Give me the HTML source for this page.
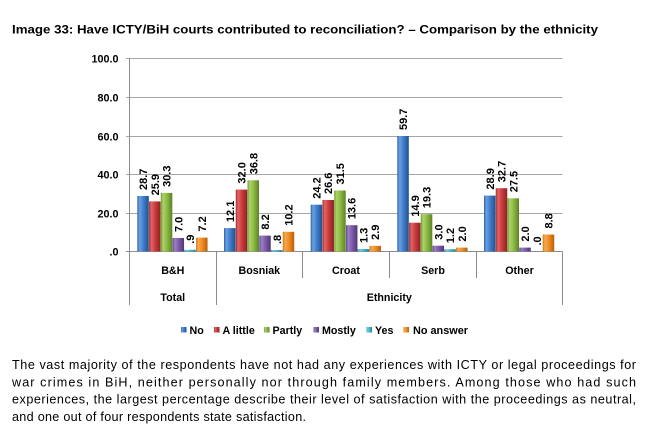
<!DOCTYPE html>
<html><head><meta charset="utf-8">
<style>
html,body{margin:0;padding:0;background:#fff;}
body{width:655px;height:434px;overflow:hidden;}
svg{display:block;}
text{font-family:"Liberation Sans",Arial,sans-serif;}
</style></head>
<body>
<svg width="655" height="434" viewBox="0 0 655 434" xmlns="http://www.w3.org/2000/svg">
<defs>
<linearGradient id="gB" x1="0" x2="1" y1="0" y2="0"><stop offset="0" stop-color="#2d62a6"/><stop offset="0.2" stop-color="#6aa0e0"/><stop offset="0.55" stop-color="#3d7cc9"/><stop offset="1" stop-color="#22508c"/></linearGradient>
<linearGradient id="gR" x1="0" x2="1" y1="0" y2="0"><stop offset="0" stop-color="#a82c2f"/><stop offset="0.2" stop-color="#e06466"/><stop offset="0.55" stop-color="#c93a3c"/><stop offset="1" stop-color="#8c2124"/></linearGradient>
<linearGradient id="gG" x1="0" x2="1" y1="0" y2="0"><stop offset="0" stop-color="#6f9a30"/><stop offset="0.2" stop-color="#acd36a"/><stop offset="0.55" stop-color="#8bb943"/><stop offset="1" stop-color="#5c8226"/></linearGradient>
<linearGradient id="gP" x1="0" x2="1" y1="0" y2="0"><stop offset="0" stop-color="#614690"/><stop offset="0.2" stop-color="#9c7fc4"/><stop offset="0.55" stop-color="#7b59a8"/><stop offset="1" stop-color="#503875"/></linearGradient>
<linearGradient id="gC" x1="0" x2="1" y1="0" y2="0"><stop offset="0" stop-color="#3097b0"/><stop offset="0.2" stop-color="#78d0e2"/><stop offset="0.55" stop-color="#40b4cf"/><stop offset="1" stop-color="#2a8299"/></linearGradient>
<linearGradient id="gO" x1="0" x2="1" y1="0" y2="0"><stop offset="0" stop-color="#d07414"/><stop offset="0.2" stop-color="#f7aa55"/><stop offset="0.55" stop-color="#f28a1d"/><stop offset="1" stop-color="#b5600f"/></linearGradient>
</defs>

<!-- Title -->
<text x="12" y="33.3" font-size="12.3" font-weight="bold" fill="#000" textLength="586" lengthAdjust="spacingAndGlyphs">Image 33: Have ICTY/BiH courts contributed to reconciliation? – Comparison by the ethnicity</text>

<!-- Gridlines -->
<g stroke="#a6a6a6" stroke-width="1">
<line x1="126" y1="58.5" x2="562.5" y2="58.5"/>
<line x1="126" y1="97.5" x2="562.5" y2="97.5"/>
<line x1="126" y1="136.5" x2="562.5" y2="136.5"/>
<line x1="126" y1="174.5" x2="562.5" y2="174.5"/>
<line x1="126" y1="213.5" x2="562.5" y2="213.5"/>
</g>
<!-- axes -->
<g stroke="#8c8c8c" stroke-width="1">
<line x1="129.5" y1="58" x2="129.5" y2="252"/>
<line x1="126" y1="251.5" x2="562.5" y2="251.5"/>
<line x1="129.5" y1="251.5" x2="129.5" y2="305"/>
<line x1="216.5" y1="251.5" x2="216.5" y2="305"/>
<line x1="302.5" y1="251.5" x2="302.5" y2="278"/>
<line x1="389.5" y1="251.5" x2="389.5" y2="278"/>
<line x1="476.5" y1="251.5" x2="476.5" y2="278"/>
<line x1="562.5" y1="251.5" x2="562.5" y2="305"/>
</g>

<!-- Y labels -->
<g font-size="10.8" font-weight="bold" fill="#000" text-anchor="end">
<text x="118.5" y="62.3">100.0</text>
<text x="118.5" y="101.3">80.0</text>
<text x="118.5" y="140.3">60.0</text>
<text x="118.5" y="178.3">40.0</text>
<text x="118.5" y="217.3">20.0</text>
<text x="118.5" y="255.3">.0</text>
</g>

<!-- Bars -->
<g>
<!-- B&H -->
<rect x="137.3" y="196.0" width="11.5" height="55.5" fill="url(#gB)"/>
<rect x="149.05" y="201.4" width="11.5" height="50.1" fill="url(#gR)"/>
<rect x="160.8" y="192.9" width="11.5" height="58.6" fill="url(#gG)"/>
<rect x="172.55" y="238.0" width="11.5" height="13.5" fill="url(#gP)"/>
<rect x="184.3" y="249.8" width="11.5" height="1.7" fill="url(#gC)"/>
<rect x="196.05" y="237.6" width="11.5" height="13.9" fill="url(#gO)"/>
<!-- Bosniak -->
<rect x="224" y="228.1" width="11.5" height="23.4" fill="url(#gB)"/>
<rect x="235.75" y="189.6" width="11.5" height="61.9" fill="url(#gR)"/>
<rect x="247.5" y="180.3" width="11.5" height="71.2" fill="url(#gG)"/>
<rect x="259.25" y="235.6" width="11.5" height="15.9" fill="url(#gP)"/>
<rect x="271" y="250.0" width="11.5" height="1.5" fill="url(#gC)"/>
<rect x="282.75" y="231.8" width="11.5" height="19.7" fill="url(#gO)"/>
<!-- Croat -->
<rect x="310.7" y="204.7" width="11.5" height="46.8" fill="url(#gB)"/>
<rect x="322.45" y="200.0" width="11.5" height="51.5" fill="url(#gR)"/>
<rect x="334.2" y="190.5" width="11.5" height="61.0" fill="url(#gG)"/>
<rect x="345.95" y="225.2" width="11.5" height="26.3" fill="url(#gP)"/>
<rect x="357.7" y="249.0" width="11.5" height="2.5" fill="url(#gC)"/>
<rect x="369.45" y="245.9" width="11.5" height="5.6" fill="url(#gO)"/>
<!-- Serb -->
<rect x="397.3" y="136.0" width="11.5" height="115.5" fill="url(#gB)"/>
<rect x="409.05" y="222.7" width="11.5" height="28.8" fill="url(#gR)"/>
<rect x="420.8" y="214.2" width="11.5" height="37.3" fill="url(#gG)"/>
<rect x="432.55" y="245.7" width="11.5" height="5.8" fill="url(#gP)"/>
<rect x="444.3" y="249.2" width="11.5" height="2.3" fill="url(#gC)"/>
<rect x="456.05" y="247.6" width="11.5" height="3.9" fill="url(#gO)"/>
<!-- Other -->
<rect x="484" y="195.6" width="11.5" height="55.9" fill="url(#gB)"/>
<rect x="495.75" y="188.2" width="11.5" height="63.3" fill="url(#gR)"/>
<rect x="507.5" y="198.3" width="11.5" height="53.2" fill="url(#gG)"/>
<rect x="519.25" y="247.6" width="11.5" height="3.9" fill="url(#gP)"/>
<rect x="542.75" y="234.5" width="11.5" height="17.0" fill="url(#gO)"/>
</g>

<!-- Value labels (rotated) -->
<g font-size="11" font-weight="bold" fill="#000">
<text transform="translate(147.1,190) rotate(-90)">28.7</text>
<text transform="translate(158.8,195.4) rotate(-90)">25.9</text>
<text transform="translate(170.6,186.9) rotate(-90)">30.3</text>
<text transform="translate(182.3,232) rotate(-90)">7.0</text>
<text transform="translate(194.1,243.8) rotate(-90)">.9</text>
<text transform="translate(205.8,231.6) rotate(-90)">7.2</text>

<text transform="translate(233.8,222.1) rotate(-90)">12.1</text>
<text transform="translate(245.5,183.6) rotate(-90)">32.0</text>
<text transform="translate(257.3,174.3) rotate(-90)">36.8</text>
<text transform="translate(269,229.6) rotate(-90)">8.2</text>
<text transform="translate(280.8,244) rotate(-90)">.8</text>
<text transform="translate(292.5,225.8) rotate(-90)">10.2</text>

<text transform="translate(320.5,198.7) rotate(-90)">24.2</text>
<text transform="translate(332.2,194) rotate(-90)">26.6</text>
<text transform="translate(344,184.5) rotate(-90)">31.5</text>
<text transform="translate(355.7,219.2) rotate(-90)">13.6</text>
<text transform="translate(367.5,243) rotate(-90)">1.3</text>
<text transform="translate(379.2,239.9) rotate(-90)">2.9</text>

<text transform="translate(407.1,130) rotate(-90)">59.7</text>
<text transform="translate(418.8,216.7) rotate(-90)">14.9</text>
<text transform="translate(430.6,208.2) rotate(-90)">19.3</text>
<text transform="translate(442.3,239.7) rotate(-90)">3.0</text>
<text transform="translate(454.1,243.2) rotate(-90)">1.2</text>
<text transform="translate(465.8,241.6) rotate(-90)">2.0</text>

<text transform="translate(493.8,189.6) rotate(-90)">28.9</text>
<text transform="translate(505.5,182.2) rotate(-90)">32.7</text>
<text transform="translate(517.3,192.3) rotate(-90)">27.5</text>
<text transform="translate(529,241.6) rotate(-90)">2.0</text>
<text transform="translate(540.8,245.5) rotate(-90)">.0</text>
<text transform="translate(552.5,228.5) rotate(-90)">8.8</text>
</g>

<!-- Category labels -->
<g font-size="10.7" font-weight="bold" fill="#000" text-anchor="middle">
<text x="172.8" y="274">B&amp;H</text>
<text x="259.3" y="274">Bosniak</text>
<text x="346" y="274">Croat</text>
<text x="433" y="274">Serb</text>
<text x="519.5" y="274">Other</text>
<text x="172.8" y="301">Total</text>
<text x="389.3" y="301">Ethnicity</text>
</g>

<!-- Legend -->
<g font-size="10.7" font-weight="bold" fill="#000">
<rect x="181" y="327" width="5.5" height="5.5" fill="url(#gB)"/>
<text x="189.5" y="333.8">No</text>
<rect x="214" y="327" width="5.5" height="5.5" fill="url(#gR)"/>
<text x="222.5" y="333.8">A little</text>
<rect x="264" y="327" width="5.5" height="5.5" fill="url(#gG)"/>
<text x="272.5" y="333.8">Partly</text>
<rect x="313.5" y="327" width="5.5" height="5.5" fill="url(#gP)"/>
<text x="322" y="333.8">Mostly</text>
<rect x="366.5" y="327" width="5.5" height="5.5" fill="url(#gC)"/>
<text x="375" y="333.8">Yes</text>
<rect x="403.5" y="327" width="5.5" height="5.5" fill="url(#gO)"/>
<text x="413" y="333.8" textLength="55" lengthAdjust="spacingAndGlyphs">No answer</text>
</g>

<!-- Paragraph -->
<g font-size="12.6" fill="#000">
<text x="12" y="369" textLength="624" lengthAdjust="spacing">The vast majority of the respondents have not had any experiences with ICTY or legal proceedings for</text>
<text x="12" y="386.5" textLength="624" lengthAdjust="spacing">war crimes in BiH, neither personally nor through family members. Among those who had such</text>
<text x="12" y="403.7" textLength="624" lengthAdjust="spacing">experiences, the largest percentage describe their level of satisfaction with the proceedings as neutral,</text>
<text x="12" y="421" textLength="294" lengthAdjust="spacing">and one out of four respondents state satisfaction.</text>
</g>
</svg>
</body></html>
